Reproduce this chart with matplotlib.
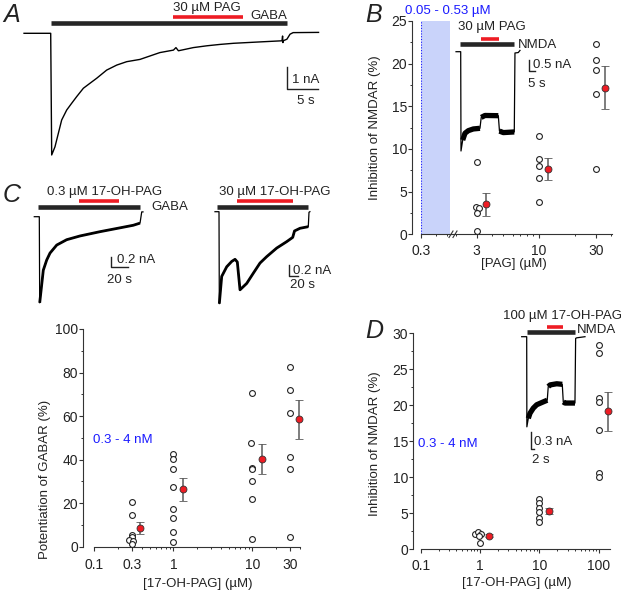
import numpy as np
import matplotlib
matplotlib.use('Agg')
import matplotlib.pyplot as plt
from matplotlib.lines import Line2D
from matplotlib.ticker import FixedLocator, LogLocator, NullFormatter, FixedFormatter, MultipleLocator

plt.rcParams['font.family'] = ['Liberation Sans', 'DejaVu Sans']

# ---------------- data ----------------
# Panel A: GABA-evoked current (time s, current nA)
a_time = [-4.3, 0, 0.16, 0.69, 1.23, 1.77, 2.58, 3.39, 4.19, 5.27, 6.34, 7.42, 9.03, 10.65, 12.26,
          14.4, 16.0, 17.6, 19.8, 20.2, 20.6, 23.0, 25.2, 27.3, 29.5, 31.6, 33.7, 37.3, 37.4, 37.45,
          37.5, 38.1, 38.6, 39.1, 43.2]
a_curr = [0, 0, -5.36, -5.0, -4.41, -3.82, -3.38, -3.08, -2.79, -2.42, -2.2, -1.98, -1.62, -1.40, -1.25,
          -1.15, -1.0, -0.85, -0.74, -0.63, -0.77, -0.63, -0.55, -0.49, -0.44, -0.41, -0.38, -0.33, -0.12,
          -0.41, -0.33, -0.26, -0.04, 0.03, 0.04]
a_gaba = (0.0, 38.1)
a_pag = (19.8, 31.0)

# Panel B inset: NMDA current with 30 uM PAG
b_time = [-4.1, 0, 0.26, 1.75, 3.77, 6.67, 11.05, 16.9, 18.0, 21.3, 33.0, 34.0, 37.4, 47.0, 47.6, 50.5, 52]
b_curr = [0, 0, -4.64, -4.13, -3.81, -3.69, -3.61, -3.58, -3.07, -2.98, -2.99, -3.71, -3.78, -3.75,
          -0.06, -0.04, 0.06]
b_nmda = (-0.6, 47.0)
b_pag = (17.5, 33.6)

# Panel B scatter: inhibition of NMDAR (%) vs [PAG]
b_x3 = [3.0, 2.94, 3.13, 3.0, 3.0]
b_y3 = [8.44, 3.24, 3.1, 2.46, 0.39]
b_x10 = [10, 10, 10, 10, 10]
b_y10 = [11.5, 8.8, 8.0, 6.56, 3.79]
b_x30 = [30, 30, 30, 30, 30]
b_y30 = [22.3, 20.4, 19.2, 16.5, 7.7]
b_mean_x = [3.6, 12.0, 36.0]
b_mean_y = [3.5, 7.7, 17.2]
b_sem = [1.35, 1.3, 2.55]
b_range = (0.05, 0.53)

# Panel C insets: GABA currents with 17-OH-PAG
cl_time = [-5.9, 0, 0.47, 4.7, 8.7, 12.6, 20.5, 32.2, 47.9, 71.4, 91.1, 110.6, 118.5, 120.5, 122]
cl_curr = [0, 0, -1.61, -1.0, -0.81, -0.68, -0.53, -0.43, -0.36, -0.28, -0.22, -0.16, -0.12, 0.09, 0.09]
cl_gaba = (-1.2, 118.5)
cl_drug = (46.4, 94.3)
cr_time = [-8.9, 0, 0.7, 6, 17.1, 28.2, 35.6, 40.7, 46.7, 61.6, 76.2, 91.1, 106, 128.2, 150.4, 163.8,
           167.8, 180, 198.4, 200, 202]
cr_curr = [0, 0, -1.72, -1.21, -1.03, -0.93, -0.89, -0.94, -1.46, -1.34, -1.15, -0.96, -0.84, -0.68,
           -0.56, -0.48, -0.36, -0.31, -0.28, -0.01, 0]
cr_gaba = (-3.8, 198.4)
cr_drug = (40.7, 163.8)

# Panel C scatter: potentiation of GABAR (%)
c_x03 = [0.3, 0.3, 0.3, 0.3, 0.275, 0.31, 0.3]
c_y03 = [20.5, 14.5, 5.5, 4.3, 2.9, 2.7, 1.1]
c_x1 = [1, 1, 1, 1, 1, 1, 1, 1]
c_y1 = [42.6, 40.1, 35.8, 27.3, 17.4, 13.4, 6.9, 2.3]
c_x10 = [10, 9.6, 10, 10, 10, 10, 10]
c_y10 = [70.5, 47.8, 36.3, 35.8, 30.3, 21.8, 3.4]
c_x30 = [30, 30, 30, 30, 30, 30]
c_y30 = [82.4, 71.8, 61.3, 41.3, 35.6, 4.3]
c_mean_x = [0.38, 1.34, 13.4, 39.3]
c_mean_y = [8.4, 26.4, 40.3, 58.5]
c_sem = [2.75, 5.2, 6.8, 8.9]

# Panel D inset: NMDA current with 100 uM 17-OH-PAG
d_time = [-3.0, 0, 0.1, 0.96, 1.98, 3.95, 6.0, 9.9, 12.3, 12.9, 14.0, 18.0, 21.3, 21.9, 22.9, 28.9,
          29.3, 29.9, 34.9]
d_curr = [0, 0, -1.59, -1.44, -1.35, -1.26, -1.20, -1.15, -1.12, -0.88, -0.85, -0.83, -0.84, -1.15,
          -1.17, -1.17, -0.03, -0.02, 0]
d_nmda = (0.0, 28.9)
d_drug = (12.3, 21.6)

# Panel D scatter: inhibition of NMDAR (%) vs [17-OH-PAG]
d_x1 = [0.82, 0.93, 1.03, 0.97, 1.0]
d_y1 = [2.1, 2.4, 2.1, 1.9, 0.9]
d_x10 = [10, 10, 10, 10, 10, 10]
d_y10 = [7.0, 6.4, 5.8, 5.2, 4.3, 3.75]
d_x100 = [100, 100, 100, 100, 100, 100, 100]
d_y100 = [28.4, 27.2, 21.0, 20.4, 16.6, 10.6, 10.0]
d_mean_x = [1.44, 14.4, 143]
d_mean_y = [1.9, 5.3, 19.2]
d_sem = [0.25, 0.4, 2.7]

# ---------------- styling helpers ----------------
W, H = 625, 590
fig = plt.figure(figsize=(W / 100, H / 100), dpi=100)
TXT = '#222222'
BLUE = '#1a1aff'
RED = '#ee1c24'
BAR = '#262626'


def px_ax(x0, y0, x1, y1):
    return fig.add_axes([x0 / W, 1 - y1 / H, (x1 - x0) / W, (y1 - y0) / H])


def ftext(x, y, s, **kw):
    kw.setdefault('ha', 'left')
    kw.setdefault('va', 'baseline')
    kw.setdefault('fontsize', 9.5)
    kw.setdefault('color', TXT)
    fig.text(x / W, 1 - y / H, s, **kw)


def inset(box, origin, sx, sy):
    x0, y0, x1, y1 = box
    ox, oy = origin
    ax = px_ax(x0, y0, x1, y1)
    ax.set_xlim((x0 - ox) / sx, (x1 - ox) / sx)
    ax.set_ylim(-(y1 - oy) / sy, -(y0 - oy) / sy)
    ax.axis('off')

    def to_data(px, py):
        return (px - ox) / sx, -(py - oy) / sy
    return ax, to_data


def draw_trace(ax, t, i, segs, lw_thin=0.9, lw_thick=4.0):
    ax.plot(t, i, color='k', lw=lw_thin, clip_on=False)
    for a, b in segs:
        ax.plot(t[a:b + 1], i[a:b + 1], color='k', lw=lw_thick, solid_capstyle='butt',
                solid_joinstyle='round', clip_on=False)


def app_bar(ax, to_data, span, py, color, lw):
    _, y = to_data(0, py)
    ax.plot(span, [y, y], color=color, lw=lw, solid_capstyle='butt', clip_on=False)


def scalebar(ax, to_data, corner, amp, dur):
    cx, cy = to_data(*corner)
    ax.plot([cx, cx, cx + dur], [cy + amp, cy, cy], color=TXT, lw=1.0, clip_on=False)


def style_plot(ax, left_out_px):
    for s in ('top', 'right'):
        ax.spines[s].set_visible(False)
    for s in ('left', 'bottom'):
        ax.spines[s].set_linewidth(0.8)
        ax.spines[s].set_color('#333333')
    ax.spines['left'].set_position(('outward', left_out_px * 0.72))
    ax.tick_params(which='major', length=2.6, width=0.8, color='#333333', labelsize=10, labelcolor=TXT)
    ax.tick_params(which='minor', length=1.5, width=0.7, color='#333333')
    ax.tick_params(axis='y', which='both', pad=0.8)
    ax.patch.set_alpha(0)


def scatter(ax, xs, ys):
    ax.plot(xs, ys, 'o', mfc='white', mec='#222222', ms=4.2, mew=0.8, clip_on=False, zorder=4)


def means(ax, mx, my, se):
    cont = ax.errorbar(mx, my, yerr=se, fmt='o', mfc=RED, mec='#333333', mew=0.6, ms=5,
                       ecolor='#5a5a5a', elinewidth=1.1, capsize=3.0, capthick=1.1, zorder=5)
    for art in cont.get_children():
        art.set_clip_on(False)


# ---------------- Panel A ----------------
axA, toA = inset((20, 0, 330, 160), (50.7, 33.3), 6.2, 22.7)
draw_trace(axA, a_time, a_curr, [], lw_thin=1.0)
app_bar(axA, toA, a_gaba, 23.3, BAR, 3.3)
app_bar(axA, toA, a_pag, 16.7, RED, 2.6)
scalebar(axA, toA, (287.3, 89.3), 1.0, 5.0)
ftext(3, 22, 'A', fontsize=18, style='italic')
ftext(206.7, 10.7, '30 µM PAG', ha='center')
ftext(250.7, 19.3, 'GABA')
ftext(291.7, 83.3, '1 nA')
ftext(296.7, 104, '5 s')

# ---------------- Panel B ----------------
B_top, B_bot = 21, 234.3
axB1 = px_ax(420.7, B_top, 451, B_bot)
axB2 = px_ax(451, B_top, 612, B_bot)
for ax in (axB1, axB2):
    ax.set_xscale('log')
    ax.set_ylim(0, 25)
    style_plot(ax, 9)
axB1.set_xlim(0.3, 0.3 * 10 ** ((451 - 420.7) / 119))
axB2.set_xlim(3 * 10 ** (-(476.7 - 451) / 119), 3 * 10 ** ((612 - 476.7) / 119))
axB1.yaxis.set_major_locator(MultipleLocator(5))
axB1.yaxis.set_minor_locator(MultipleLocator(2.5))
axB1.xaxis.set_major_locator(FixedLocator([0.3]))
axB1.xaxis.set_major_formatter(FixedFormatter(['0.3']))
axB1.xaxis.set_minor_locator(LogLocator(base=10, subs=np.arange(2, 10)))
axB1.xaxis.set_minor_formatter(NullFormatter())
axB2.spines['left'].set_visible(False)
axB2.tick_params(axis='y', which='both', left=False, labelleft=False)
axB2.xaxis.set_major_locator(FixedLocator([3, 10, 30]))
axB2.xaxis.set_major_formatter(FixedFormatter(['3', '10', '30']))
axB2.xaxis.set_minor_locator(LogLocator(base=10, subs=np.arange(2, 10)))
axB2.xaxis.set_minor_formatter(NullFormatter())
for ax in (axB1, axB2):
    ax.tick_params(axis='x', which='major', pad=4.4)
lo = max(b_range[0], axB1.get_xlim()[0])
axB1.axvspan(lo, b_range[1], color='#c9d3fa', lw=0, zorder=0)
axB1.axvline(lo, color=BLUE, ls=(0, (1, 1.5)), lw=0.8, zorder=1)
for x, y in ((b_x3, b_y3), (b_x10, b_y10), (b_x30, b_y30)):
    scatter(axB2, x, y)
means(axB2, b_mean_x, b_mean_y, b_sem)
# axis break marks
for dx in (0, 4):
    fig.add_artist(Line2D([(449 + dx) / W, (453 + dx) / W], [1 - 237.5 / H, 1 - 231 / H],
                          color='#333333', lw=0.8))
ftext(365, 22, 'B', fontsize=18, style='italic')
ftext(447.5, 14, '0.05 - 0.53 µM', ha='center', color=BLUE)
ftext(375, (B_top + B_bot) / 2, 'Inhibition of NMDAR (%)', rotation=90, ha='center', va='center')
ftext(514, 267.3, '[PAG] (µM)', ha='center')

# B inset
axBi, toBi = inset((440, 20, 560, 160), (460.7, 51.7), 1.14, 21.4)
draw_trace(axBi, b_time, b_curr, [(3, 7), (8, 10), (11, 13)], lw_thin=0.9, lw_thick=3.8)
app_bar(axBi, toBi, b_nmda, 44.3, BAR, 3.3)
app_bar(axBi, toBi, b_pag, 38.7, RED, 2.6)
scalebar(axBi, toBi, (529.3, 70.7), 0.5, 5.0)
ftext(492.3, 30, '30 µM PAG', ha='center')
ftext(517.7, 48.3, 'NMDA')
ftext(533.3, 68.3, '0.5 nA')
ftext(527.7, 87.3, '5 s')

# ---------------- Panel C insets ----------------
axCl, toCl = inset((25, 180, 200, 310), (39.3, 216.7), 0.85, 53.5)
draw_trace(axCl, cl_time, cl_curr, [(2, 12)], lw_thin=0.9, lw_thick=2.0)
app_bar(axCl, toCl, cl_gaba, 206.7, BAR, 3.3)
app_bar(axCl, toCl, cl_drug, 200.7, RED, 2.6)
scalebar(axCl, toCl, (110.7, 267.3), 0.2, 20.0)
axCr, toCr = inset((205, 180, 340, 310), (219, 211.7), 0.45, 53.5)
draw_trace(axCr, cr_time, cr_curr, [(2, 18)], lw_thin=0.9, lw_thick=2.0)
app_bar(axCr, toCr, cr_gaba, 206.7, BAR, 3.3)
app_bar(axCr, toCr, cr_drug, 200.7, RED, 2.6)
scalebar(axCr, toCr, (289.3, 275.7), 0.2, 20.0)
ftext(3, 202, 'C', fontsize=18, style='italic')
ftext(46.7, 195, '0.3 µM 17-OH-PAG')
ftext(151.7, 210, 'GABA')
ftext(116.7, 263.3, '0.2 nA')
ftext(107.3, 282.7, '20 s')
ftext(219.3, 195, '30 µM 17-OH-PAG')
ftext(293.3, 274.3, '0.2 nA')
ftext(290, 288.3, '20 s')

# ---------------- Panel C plot ----------------
axC = px_ax(94.3, 329, 299.9, 546.7)
axC.set_xscale('log')
axC.set_xlim(0.1, 40)
axC.set_ylim(0, 100)
style_plot(axC, 11.6)
axC.yaxis.set_major_locator(MultipleLocator(20))
axC.yaxis.set_minor_locator(MultipleLocator(10))
axC.xaxis.set_major_locator(FixedLocator([0.1, 0.3, 1, 10, 30]))
axC.xaxis.set_major_formatter(FixedFormatter(['0.1', '0.3', '1', '10', '30']))
axC.xaxis.set_minor_locator(LogLocator(base=10, subs=np.arange(2, 10)))
axC.xaxis.set_minor_formatter(NullFormatter())
axC.tick_params(axis='x', which='major', pad=5.3)
for x, y in ((c_x03, c_y03), (c_x1, c_y1), (c_x10, c_y10), (c_x30, c_y30)):
    scatter(axC, x, y)
means(axC, c_mean_x, c_mean_y, c_sem)
ftext(92.7, 442.7, '0.3 - 4 nM', color=BLUE)
ftext(45, 479, 'Potentiation of GABAR (%)', rotation=90, ha='center', va='center')
ftext(198, 586.7, '[17-OH-PAG] (µM)', ha='center')

# ---------------- Panel D plot ----------------
axD = px_ax(420.7, 333.3, 610, 549.3)
axD.set_xscale('log')
axD.set_xlim(0.1, 0.1 * 10 ** ((610 - 420.7) / 59.3))
axD.set_ylim(0, 30)
style_plot(axD, 8)
axD.yaxis.set_major_locator(MultipleLocator(5))
axD.yaxis.set_minor_locator(MultipleLocator(2.5))
axD.xaxis.set_major_locator(FixedLocator([0.1, 1, 10, 100]))
axD.xaxis.set_major_formatter(FixedFormatter(['0.1', '1', '10', '100']))
axD.xaxis.set_minor_locator(LogLocator(base=10, subs=np.arange(2, 10)))
axD.xaxis.set_minor_formatter(NullFormatter())
axD.tick_params(axis='x', which='major', pad=4.6)
for x, y in ((d_x1, d_y1), (d_x10, d_y10), (d_x100, d_y100)):
    scatter(axD, x, y)
means(axD, d_mean_x, d_mean_y, d_sem)
ftext(418, 447.3, '0.3 - 4 nM', color=BLUE)
ftext(375, 444, 'Inhibition of NMDAR (%)', rotation=90, ha='center', va='center')
ftext(516.5, 585.7, '[17-OH-PAG] (µM)', ha='center')
ftext(365, 338, 'D', fontsize=18, style='italic')

# D inset
axDi, toDi = inset((505, 310, 625, 460), (526.7, 336.7), 1.67, 56.7)
draw_trace(axDi, d_time, d_curr, [(3, 8), (9, 12), (13, 15)], lw_thin=0.9, lw_thick=3.8)
app_bar(axDi, toDi, d_nmda, 331.7, BAR, 3.3)
app_bar(axDi, toDi, d_drug, 326.7, RED, 2.6)
scalebar(axDi, toDi, (531, 449.3), 0.3, 2.0)
ftext(503.3, 319.3, '100 µM 17-OH-PAG')
ftext(576.7, 333.3, 'NMDA')
ftext(534.3, 445, '0.3 nA')
ftext(531.7, 462.7, '2 s')

fig.savefig('out.png', dpi=100)
